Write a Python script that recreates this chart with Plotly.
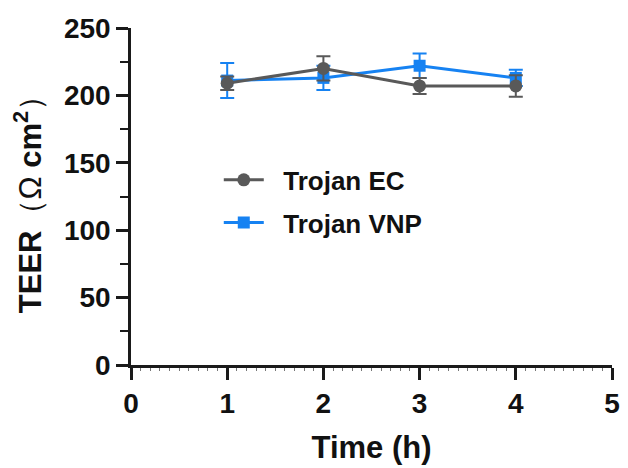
import plotly.graph_objects as go

time_h = [1, 2, 3, 4]
ec_mean = [209, 220, 207, 207]
ec_err = [5, 9, 6, 8]
vnp_mean = [211, 213, 222, 213]
vnp_err = [13, 9, 9, 6]

x_ticks = [0, 1, 2, 3, 4, 5]
y_ticks = [0, 50, 100, 150, 200, 250]

GRAY = "#595959"
BLUE = "#1682f2"
FONT = "Liberation Sans, Arial, sans-serif"

fig = go.Figure()
fig.add_trace(go.Scatter(
    x=time_h, y=vnp_mean, name="  Trojan VNP", mode="lines+markers",
    line=dict(color=BLUE, width=3),
    marker=dict(symbol="square", size=12, color=BLUE),
    error_y=dict(type="data", array=vnp_err, color=BLUE, thickness=2, width=7),
    legendrank=2, legendgroup="b",
))
fig.add_trace(go.Scatter(
    x=time_h, y=ec_mean, name="  Trojan EC", mode="lines+markers",
    line=dict(color=GRAY, width=3),
    marker=dict(symbol="circle", size=13, color=GRAY),
    error_y=dict(type="data", array=ec_err, color=GRAY, thickness=2, width=7),
    legendrank=1, legendgroup="a",
))

axis_common = dict(
    showline=True, linecolor="#1a1a1a", linewidth=2.5,
    ticks="outside", ticklen=12, tickwidth=2.5, tickcolor="#1a1a1a",
    showgrid=False, zeroline=False, automargin=False,
    tickfont=dict(family=FONT, size=28, color="#111", weight="bold"),
)

fig.update_xaxes(
    range=[0, 5], tickvals=x_ticks, ticktext=[str(v) for v in x_ticks],
    title=dict(text="Time (h)", font=dict(family=FONT, size=31, color="#111", weight="bold"), standoff=18),
    minor=dict(dtick=0.1, ticks="outside", ticklen=3, tickwidth=1, tickcolor="#777"),
    **axis_common,
)
fig.update_yaxes(
    range=[0, 250], tickvals=y_ticks, ticktext=[str(v) for v in y_ticks],
    title=dict(
        text="TEER<span style='font-weight:normal'>（Ω</span> cm<sup>2</sup><span style='font-weight:normal'>）</span>",
        font=dict(family=FONT, size=31, color="#111", weight="bold"), standoff=16),
    minor=dict(dtick=25, ticks="outside", ticklen=8, tickwidth=2, tickcolor="#1a1a1a"),
    **axis_common,
)

fig.update_layout(
    width=628, height=468,
    margin=dict(l=123, r=24, t=20, b=111),
    plot_bgcolor="white", paper_bgcolor="white",
    showlegend=True,
    legend=dict(
        x=0.1825, y=0.619, xanchor="left", yanchor="top",
        font=dict(family=FONT, size=26, color="#111", weight="bold"),
        bgcolor="rgba(0,0,0,0)", tracegroupgap=6, itemwidth=40,
    ),
)

fig.write_html("out.html")
